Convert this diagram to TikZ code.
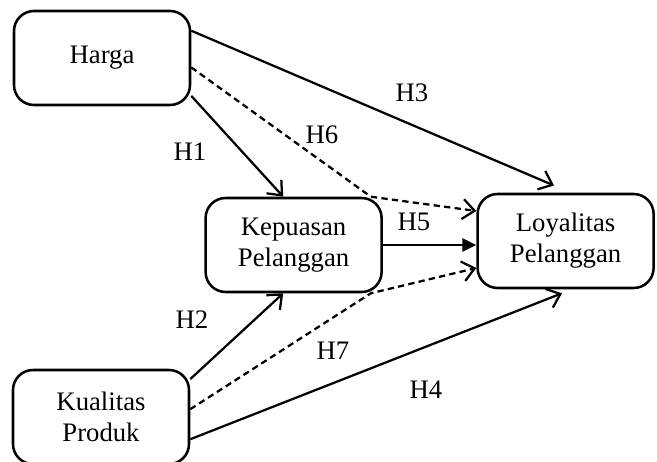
\documentclass[tikz,border=0pt]{standalone}
\usepackage{fontspec}
\setmainfont{Liberation Serif}
\usetikzlibrary{arrows.meta,calc}
\tikzset{
  kotak/.style={draw, rounded corners=0.5cm, line width=1.8pt, minimum width=4.4cm,
    minimum height=2.35cm, align=center, font=\fontsize{19}{22}\selectfont},
  teks/.style={font=\fontsize{19}{22}\selectfont},
  panah/.style={line width=1.6pt, -{Straight Barb[length=0.3cm,width=0.5cm]}},
  panahputus/.style={panah, dash pattern=on 4.5pt off 3pt},
  panahpenuh/.style={line width=1.6pt, -{Triangle[length=0.35cm,width=0.33cm]}}
}
\begin{document}
\begin{tikzpicture}
				\useasboundingbox (0,0) rectangle (16.425,11.55);
				\node[kotak] (harga) at (2.55,10.1) {Harga};
				\node[kotak] (kepuasan) at (7.34,5.425) {Kepuasan\\Pelanggan};
				\node[kotak] (loyalitas) at (14.14,5.525) {Loyalitas\\Pelanggan};
				\node[kotak] (kualitas) at (2.525,1.125) {Kualitas\\Produk};
				\draw[panah] (harga.-23) -- ($(kepuasan.north)+(-0.26,0)$);
				\draw[panah] (harga.17) -- ($(loyalitas.north)+(-0.29,0.18)$);
				\draw[panahputus] (harga.-6) -- ($(kepuasan.north east)+(-0.3,0)$) -- ($(loyalitas.west)+(0,0.75)$);
				\draw[panahpenuh] (kepuasan.east) -- (kepuasan.east -| loyalitas.west);
				\draw[panah] (kualitas.23) -- ($(kepuasan.south)+(-0.26,0)$);
				\draw[panahputus] (kualitas.5) -- ($(kepuasan.south east)+(-0.3,0)$) -- ($(loyalitas.west)+(0,-0.675)$);
				\draw[panah] (kualitas.-14) -- ($(loyalitas.south)+(-0.09,-0.1)$);
				\node[teks] (h1) at (4.75,7.75) {H1};
				\node[teks] (h2) at (4.8,3.55) {H2};
				\node[teks] (h3) at (10.3,9.225) {H3};
				\node[teks] (h4) at (10.65,1.8) {H4};
				\node[teks] (h5) at (10.35,6.0) {H5};
				\node[teks] (h6) at (8.05,8.175) {H6};
				\node[teks] (h7) at (8.325,2.775) {H7};
			\end{tikzpicture}
\end{document}
